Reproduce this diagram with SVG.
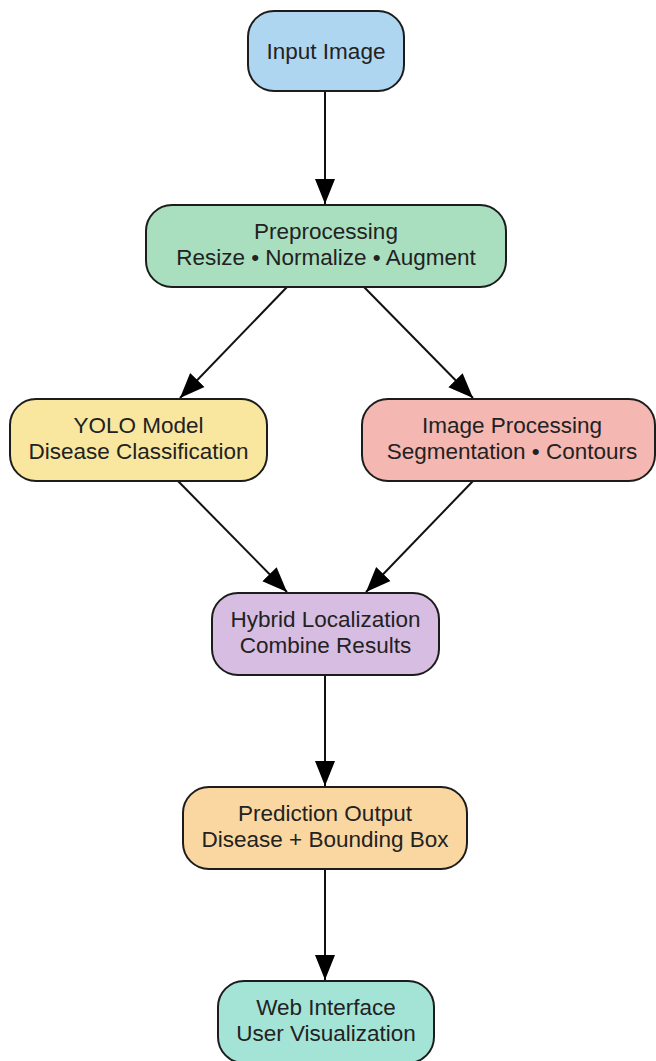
<svg xmlns="http://www.w3.org/2000/svg" width="656" height="1061" viewBox="0 0 656 1061">
  <style>
    .box { stroke: #1c1c1c; stroke-width: 2; }
    .lbl { font-family: "Liberation Sans", Arial, sans-serif; font-size: 22.5px; fill: #222; text-anchor: middle; }
    .edge { stroke: #111; stroke-width: 2; fill: none; marker-end: url(#arrow); }
  </style>
  <defs>
    <marker id="arrow" markerUnits="userSpaceOnUse" markerWidth="26" markerHeight="22" refX="25" refY="11" orient="auto">
      <path d="M0,1 L25,11 L0,21 z" fill="#000"/>
    </marker>
  </defs>
  <rect width="656" height="1061" fill="#ffffff"/>

  <g id="connectors">
    <line class="edge" x1="325" y1="92" x2="325" y2="204"/>
    <line class="edge" x1="287" y1="287" x2="180" y2="398"/>
    <line class="edge" x1="364" y1="287" x2="473" y2="398"/>
    <line class="edge" x1="178" y1="481" x2="287" y2="592"/>
    <line class="edge" x1="473" y1="481" x2="366" y2="592"/>
    <line class="edge" x1="325" y1="675" x2="325" y2="786"/>
    <line class="edge" x1="325" y1="869" x2="325" y2="980"/>
  </g>

  <g id="input-image">
    <rect class="box" x="248" y="11" width="156" height="80" rx="26" fill="#aed6f1"/>
    <text class="lbl" x="326" y="59">Input Image</text>
  </g>

  <g id="preprocessing">
    <rect class="box" x="146" y="205" width="360" height="82" rx="26" fill="#a9dfbf"/>
    <text class="lbl" x="326" y="239">Preprocessing</text>
    <text class="lbl" x="326" y="265">Resize • Normalize • Augment</text>
  </g>

  <g id="yolo-model">
    <rect class="box" x="10" y="399" width="257" height="82" rx="26" fill="#f9e79f"/>
    <text class="lbl" x="138.5" y="433">YOLO Model</text>
    <text class="lbl" x="138.5" y="459">Disease Classification</text>
  </g>

  <g id="image-processing">
    <rect class="box" x="362" y="399" width="293" height="82" rx="26" fill="#f5b7b1"/>
    <text class="lbl" x="512" y="433">Image Processing</text>
    <text class="lbl" x="512" y="459">Segmentation • Contours</text>
  </g>

  <g id="hybrid-localization">
    <rect class="box" x="212" y="593" width="227" height="82" rx="26" fill="#d7bde2"/>
    <text class="lbl" x="325.5" y="627">Hybrid Localization</text>
    <text class="lbl" x="325.5" y="653">Combine Results</text>
  </g>

  <g id="prediction-output">
    <rect class="box" x="183" y="787" width="284" height="82" rx="26" fill="#fad7a0"/>
    <text class="lbl" x="325" y="821">Prediction Output</text>
    <text class="lbl" x="325" y="847">Disease + Bounding Box</text>
  </g>

  <g id="web-interface">
    <rect class="box" x="218" y="981" width="216" height="82" rx="26" fill="#a3e4d7"/>
    <text class="lbl" x="326" y="1015">Web Interface</text>
    <text class="lbl" x="326" y="1041">User Visualization</text>
  </g>
</svg>
